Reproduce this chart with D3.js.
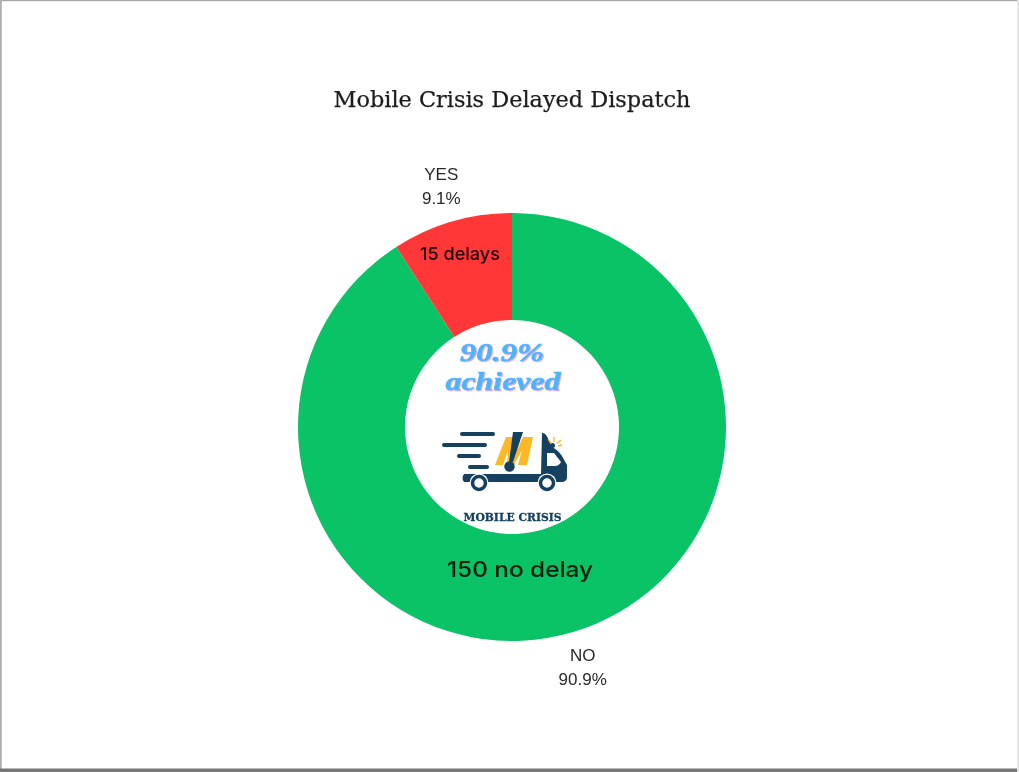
<!DOCTYPE html>
<html><head><meta charset="utf-8">
<style>html,body{margin:0;padding:0;background:#fff;overflow:hidden}svg{display:block}</style>
<script src="https://cdn.jsdelivr.net/npm/d3@7"></script></head>
<body><svg id="c" width="1019" height="772"></svg>
<script>
const categories = ["NO", "YES"];
const counts = [150, 15];
const percentLabels = ["90.9%", "9.1%"];
const sliceColors = ["#0ac366", "#ff3737"];
const chartTitle = "Mobile Crisis Delayed Dispatch";
const sliceNotes = ["150 no delay", "15 delays"];
const centerText = ["90.9%", "achieved"];
const logoText = "MOBILE CRISIS";

const svg = d3.select("#c");
const defs = svg.append("defs");
const softer = defs.append("filter").attr("id","softer").attr("x","-5%").attr("width","110%").attr("y","-10%").attr("height","120%");
softer.append("feGaussianBlur").attr("stdDeviation",0.35);
const script = defs.append("filter").attr("id","script").attr("x","-5%").attr("width","110%").attr("y","-15%").attr("height","130%");
script.append("feDropShadow").attr("dx",0.9).attr("dy",0.9).attr("stdDeviation",0.5).attr("flood-color","#d9a4f5");
defs.append("filter").attr("id","edge").append("feGaussianBlur").attr("stdDeviation",0.7);

// page frame
const frame = svg.append("g").attr("filter","url(#edge)");
frame.append("rect").attr("x",0).attr("y",-2).attr("width",1019).attr("height",3.2).attr("fill","#a8a8a8");
frame.append("rect").attr("x",-2).attr("y",0).attr("width",3.8).attr("height",772).attr("fill","#b0b0b0");
frame.append("rect").attr("x",0).attr("y",768.5).attr("width",1019).attr("height",6).attr("fill","#777");
frame.append("rect").attr("x",1017).attr("y",0).attr("width",3).attr("height",772).attr("fill","#e6e6e6");

const cx = 512, cy = 427, outer = 214, inner = 107, labelR = 251;
const pie = d3.pie().value(d => d).sort(null);
const arcs = pie(counts);
const arc = d3.arc().innerRadius(inner).outerRadius(outer);
const labelArc = d3.arc().innerRadius(labelR).outerRadius(labelR);
const g = svg.append("g").attr("transform",`translate(${cx},${cy})`);

g.selectAll("path.slice").data(arcs).join("path").attr("class","slice")
  .attr("d",arc).attr("fill",(d,i)=>sliceColors[i]);

const lab = g.selectAll("text.lab").data(arcs).join("text").attr("class","lab")
  .attr("text-anchor","middle").attr("font-family","Liberation Sans").attr("font-size",17).attr("fill","#2a2a2a")
  .attr("filter","url(#softer)");
lab.each(function(d,i){
  const [x,y] = labelArc.centroid(d);
  const t = d3.select(this);
  t.append("tspan").attr("x",x).attr("y",y-6.5).text(categories[i]);
  t.append("tspan").attr("x",x).attr("y",y+17.5).text(percentLabels[i]);
});

svg.append("text").attr("x",512).attr("y",107).attr("text-anchor","middle")
  .attr("font-family","DejaVu Serif").attr("font-size",22).attr("textLength",357).attr("lengthAdjust","spacingAndGlyphs")
  .attr("fill","#1c1c1c").attr("stroke","#1c1c1c").attr("stroke-width",0.25).attr("filter","url(#softer)").text(chartTitle);

svg.append("text").attr("x",520).attr("y",577).attr("text-anchor","middle")
  .attr("font-family","Inter").attr("font-weight",500).attr("font-size",22).attr("textLength",146).attr("lengthAdjust","spacingAndGlyphs")
  .attr("fill","#06200f").attr("filter","url(#softer)").text(sliceNotes[0]);
svg.append("text").attr("x",460).attr("y",260).attr("text-anchor","middle")
  .attr("font-family","Inter").attr("font-weight",500).attr("font-size",17.5).attr("textLength",80).attr("lengthAdjust","spacingAndGlyphs")
  .attr("fill","#200505").attr("filter","url(#softer)").text(sliceNotes[1]);

// centre script text
[[centerText[0],502,361,84],[centerText[1],503,390,115]].forEach(([s,x,y,w])=>{
  svg.append("text").attr("x",x).attr("y",y).attr("text-anchor","middle")
    .attr("font-family","Liberation Serif").attr("font-style","italic").attr("font-weight",700)
    .attr("font-size",25).attr("textLength",w).attr("lengthAdjust","spacingAndGlyphs").text(s)
    .attr("fill","#4db4fb").attr("stroke","#4db4fb").attr("stroke-width",0.5).attr("filter","url(#script)");
});

// logo
const navy = "#14405f", amber = "#fdb827";
const logo = svg.append("g").attr("filter","url(#softer)");
[[462,493,434],[444,485,445],[459,479,456],[470,487,467]].forEach(([x1,x2,y])=>{
  logo.append("line").attr("x1",x1).attr("x2",x2).attr("y1",y).attr("y2",y)
    .attr("stroke",navy).attr("stroke-width",4).attr("stroke-linecap","round");
});
logo.append("path").attr("fill",amber)
  .attr("d","M495,465 L506,437 L516,437 L516,452 L523,437 L533,437 L527,465 L518,465 L522,450 L514,465 L507,465 L508,450 L503,465 Z");
logo.append("path").attr("fill",navy).attr("d","M513,432 L523,432 L513,462 L509,462 Z");
logo.append("circle").attr("cx",509.5).attr("cy",466.5).attr("r",5.2).attr("fill",navy);
logo.append("path").attr("fill",navy)
  .attr("d","M464,474 L541,474 L542,433 Q546,432 549,441 L552,447 Q558,450 562,456 L567,465 L567,478 Q566,482 562,482 L464,482 Q461,478 464,474 Z");
logo.append("path").attr("fill","#fff").attr("d","M547,453 L554,453 L561,462 Q559,466 555,466 L547,466 Z");
[[479,483],[547,483]].forEach(([x,y])=>{
  logo.append("circle").attr("cx",x).attr("cy",y).attr("r",9.5).attr("fill","#fff");
  logo.append("circle").attr("cx",x).attr("cy",y).attr("r",6.5).attr("fill","#fff").attr("stroke",navy).attr("stroke-width",3.5);
});
logo.append("circle").attr("cx",552.5).attr("cy",445.5).attr("r",2.5).attr("fill",navy);
[[548,439,551,443],[554,437,554,442],[561,440,557,443.5],[562,445,558,446]].forEach(([a,b,c,d])=>{
  logo.append("line").attr("x1",a).attr("y1",b).attr("x2",c).attr("y2",d).attr("stroke",amber).attr("stroke-width",1.3);
});
svg.append("text").attr("x",512.5).attr("y",521).attr("text-anchor","middle")
  .attr("font-family","DejaVu Serif").attr("font-weight",700).attr("font-size",11.5).attr("textLength",98).attr("lengthAdjust","spacingAndGlyphs")
  .attr("fill",navy).attr("stroke",navy).attr("stroke-width",0.3).attr("filter","url(#softer)").text(logoText);
</script></body></html>
